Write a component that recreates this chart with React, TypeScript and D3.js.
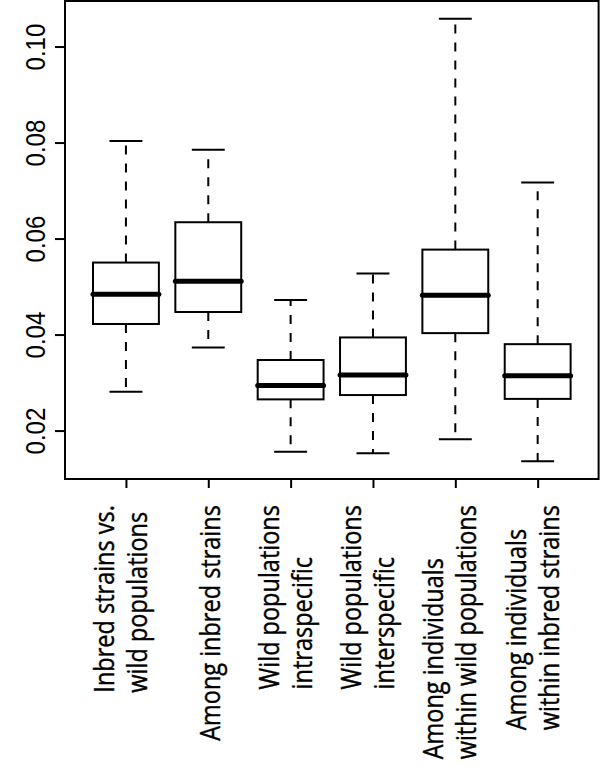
import React, { useEffect, useRef } from 'react';
import * as d3 from 'd3';

// category labels, one entry per line
const categories = [
  ['Inbred strains vs.', 'wild populations'],
  ['Among inbred strains'],
  ['Wild populations', 'intraspecific'],
  ['Wild populations', 'interspecific'],
  ['Among individuals', 'within wild populations'],
  ['Among individuals', 'within inbred strains'],
];

const whiskerHigh = [0.0803, 0.0785, 0.0472, 0.0527, 0.1058, 0.0717];
const upperQuartile = [0.055, 0.0634, 0.0347, 0.0394, 0.0577, 0.038];
const medians = [0.0484, 0.0511, 0.0294, 0.0316, 0.0482, 0.0314];
const lowerQuartile = [0.0422, 0.0447, 0.0265, 0.0274, 0.0403, 0.0266];
const whiskerLow = [0.0281, 0.0373, 0.0156, 0.0153, 0.0182, 0.0136];

const yTicks = [0.02, 0.04, 0.06, 0.08, 0.1];

const App = () => {
  const svgRef = useRef(null);

  useEffect(() => {
    const svg = d3.select(svgRef.current);
    svg.selectAll('*').remove();

    const W = 600;
    const H = 779;
    const plot = { left: 65, right: 598.6, top: 1, bottom: 479 };

    // R style: half a box either side, then 4% extension
    const n = categories.length;
    const xExt = n * 0.04;
    const x = d3.scaleLinear()
      .domain([0.5 - xExt, n + 0.5 + xExt])
      .range([plot.left, plot.right]);

    const lo = d3.min(whiskerLow);
    const hi = d3.max(whiskerHigh);
    const yExt = (hi - lo) * 0.04;
    const y = d3.scaleLinear()
      .domain([lo - yExt, hi + yExt])
      .range([plot.bottom, plot.top]);

    svg.attr('width', W).attr('height', H);

    const data = categories.map((c, i) => ({
      pos: i + 1,
      lines: c,
      hi: whiskerHigh[i],
      q3: upperQuartile[i],
      med: medians[i],
      q1: lowerQuartile[i],
      lo: whiskerLow[i],
    }));

    const boxW = x(1.4) - x(1);
    const capW = x(1.2) - x(1);

    const boxes = svg.append('g')
      .selectAll('g')
      .data(data)
      .enter().append('g');

    // dashed whiskers
    boxes.append('line')
      .attr('x1', d => x(d.pos)).attr('x2', d => x(d.pos))
      .attr('y1', d => y(d.q3)).attr('y2', d => y(d.hi))
      .attr('stroke', '#000').attr('stroke-width', 2)
      .attr('stroke-dasharray', '9,9');
    boxes.append('line')
      .attr('x1', d => x(d.pos)).attr('x2', d => x(d.pos))
      .attr('y1', d => y(d.q1)).attr('y2', d => y(d.lo))
      .attr('stroke', '#000').attr('stroke-width', 2)
      .attr('stroke-dasharray', '9,9');

    // staples
    ['hi', 'lo'].forEach(k => {
      boxes.append('line')
        .attr('x1', d => x(d.pos) - capW).attr('x2', d => x(d.pos) + capW)
        .attr('y1', d => y(d[k])).attr('y2', d => y(d[k]))
        .attr('stroke', '#000').attr('stroke-width', 2);
    });

    boxes.append('rect')
      .attr('x', d => x(d.pos) - boxW)
      .attr('width', boxW * 2)
      .attr('y', d => y(d.q3))
      .attr('height', d => y(d.q1) - y(d.q3))
      .attr('fill', '#fff')
      .attr('stroke', '#000')
      .attr('stroke-width', 2);

    boxes.append('line')
      .attr('x1', d => x(d.pos) - boxW).attr('x2', d => x(d.pos) + boxW)
      .attr('y1', d => y(d.med)).attr('y2', d => y(d.med))
      .attr('stroke', '#000').attr('stroke-width', 5)
      .attr('stroke-linecap', 'round');

    // frame
    svg.append('rect')
      .attr('x', plot.left).attr('y', plot.top)
      .attr('width', plot.right - plot.left)
      .attr('height', plot.bottom - plot.top)
      .attr('fill', 'none')
      .attr('stroke', '#000')
      .attr('stroke-width', 2);

    // y axis
    const yAxis = svg.append('g')
      .attr('transform', `translate(${plot.left},0)`)
      .call(d3.axisLeft(y).tickValues(yTicks).tickSize(10).tickFormat(d3.format('.2f')));
    yAxis.select('.domain').remove();
    yAxis.selectAll('line').attr('stroke', '#000').attr('stroke-width', 2);
    yAxis.selectAll('text')
      .attr('x', null).attr('dy', null)
      .attr('transform', 'translate(-20,0) rotate(-90) scale(1,1.14)')
      .attr('text-anchor', 'middle')
      .style('font-family', '"Liberation Sans", Arial, sans-serif')
      .style('font-size', '24px')
      .attr('fill', '#000');

    // x axis ticks only
    const xAxis = svg.append('g')
      .attr('transform', `translate(0,${plot.bottom})`)
      .call(d3.axisBottom(x).tickValues(data.map(d => d.pos)).tickSize(9).tickFormat(() => ''));
    xAxis.select('.domain').remove();
    xAxis.selectAll('line').attr('stroke', '#000').attr('stroke-width', 2);

    // rotated category labels, lines aligned at the bottom
    const lineH = 33;
    const labelTop = 505;
    const fontSize = 23.5;
    data.forEach(d => {
      const k = d.lines.length;
      const mid = k === 1 ? 12 : 4.5;
      const texts = d.lines.map((line, j) => {
        const tx = x(d.pos) + mid + (j - (k - 1) / 2) * lineH;
        return svg.append('text')
          .attr('text-anchor', 'start')
          .style('font-family', '"Open Sans", sans-serif')
          .style('font-size', `${fontSize}px`)
          .attr('fill', '#000')
          .attr('stroke', '#000')
          .attr('stroke-width', 0.35)
          .attr('data-tx', tx)
          .text(line);
      });
      const maxLen = d3.max(texts, t => t.node().getComputedTextLength());
      texts.forEach(t => {
        t.attr('transform', `translate(${t.attr('data-tx')},${labelTop + maxLen}) rotate(-90) scale(1,1.14)`);
      });
    });
  }, []);

  return (
    <svg ref={svgRef} style={{ position: 'absolute', left: 0, top: 0, background: '#fff' }}></svg>
  );
};

export default App;
